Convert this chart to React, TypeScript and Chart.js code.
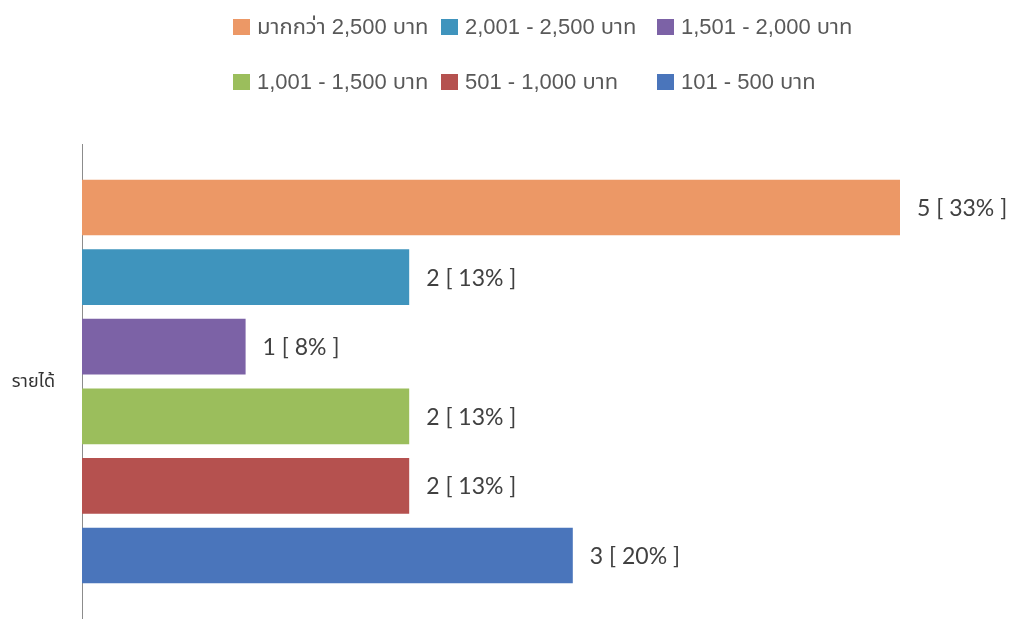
import { useEffect, useRef } from 'react';
import { Chart, registerables } from 'chart.js';

Chart.register(...registerables);

const categories = ['รายได้'];
const seriesLabels = [
  'มากกว่า 2,500 บาท',
  '2,001 - 2,500 บาท',
  '1,501 - 2,000 บาท',
  '1,001 - 1,500 บาท',
  '501 - 1,000 บาท',
  '101 - 500 บาท',
];
const seriesValues = [5, 2, 1, 2, 2, 3];
const seriesPercents = [33, 13, 8, 13, 13, 20];
const seriesColors = ['#EC9866', '#3F94BD', '#7C62A6', '#9BBE5C', '#B5514F', '#4A75BB'];

const legendFont = '22px "Liberation Sans", "Noto Sans Thai", "Noto Sans", sans-serif';
const labelFont = '23px Lato, "Open Sans", sans-serif';

const valueLabelPlugin = {
  id: 'valueLabels',
  afterDatasetsDraw(chart: any) {
    const ctx = chart.ctx;
    ctx.save();
    ctx.font = labelFont;
    ctx.fillStyle = '#404040';
    ctx.textAlign = 'left';
    ctx.textBaseline = 'middle';
    chart.data.datasets.forEach((ds: any, i: number) => {
      const meta = chart.getDatasetMeta(i);
      meta.data.forEach((el: any, j: number) => {
        const txt = `${ds.data[j]} [ ${seriesPercents[i]}% ]`;
        ctx.fillText(txt, el.x + 17, el.y + 1);
      });
    });
    ctx.restore();
  },
};

const gridLegendPlugin = {
  id: 'gridLegend',
  afterDraw(chart: any) {
    const ctx = chart.ctx;
    const cols = [233, 441, 657];
    const rows = [27, 82];
    ctx.save();
    ctx.font = legendFont;
    ctx.textAlign = 'left';
    ctx.textBaseline = 'middle';
    chart.data.datasets.forEach((ds: any, i: number) => {
      const x = cols[i % 3];
      const y = rows[Math.floor(i / 3)];
      ctx.fillStyle = ds.backgroundColor;
      ctx.fillRect(x, y - 8, 17, 16);
      ctx.fillStyle = '#595959';
      ctx.fillText(ds.label, x + 24, y + 1);
    });
    ctx.restore();
  },
};

export default function App() {
  const ref = useRef<HTMLCanvasElement | null>(null);

  useEffect(() => {
    document.body.style.margin = '0';
    if (!ref.current) return;
    const chart = new Chart(ref.current, {
      type: 'bar',
      data: {
        labels: categories,
        datasets: seriesLabels.map((label, i) => ({
          label,
          data: [seriesValues[i]],
          backgroundColor: seriesColors[i],
          borderWidth: 0,
          categoryPercentage: 0.879,
          barPercentage: 0.8,
        })),
      },
      options: {
        indexAxis: 'y',
        animation: false,
        responsive: false,
        layout: { autoPadding: false, padding: { top: 144, right: 109, bottom: 0, left: 0 } },
        plugins: {
          legend: { display: false },
          tooltip: { enabled: false },
        },
        scales: {
          x: {
            min: 0,
            max: 5,
            display: false,
            grid: { display: false },
          },
          y: {
            grid: { display: false, drawTicks: false },
            border: { display: true, color: '#8c8c8c', width: 1 },
            ticks: {
              padding: 27,
              color: '#333333',
              font: { family: '"Noto Sans", "Noto Sans Thai", sans-serif', size: 18 },
            },
            afterFit: (s: any) => {
              s.width = 82;
              s.paddingTop = 0;
              s.paddingBottom = 0;
            },
          },
        },
      },
      plugins: [valueLabelPlugin, gridLegendPlugin],
    });
    return () => chart.destroy();
  }, []);

  return (
    <div style={{ width: 1009, height: 619, background: '#fff' }}>
      <canvas ref={ref} width={1009} height={619} style={{ display: 'block' }} />
    </div>
  );
}
